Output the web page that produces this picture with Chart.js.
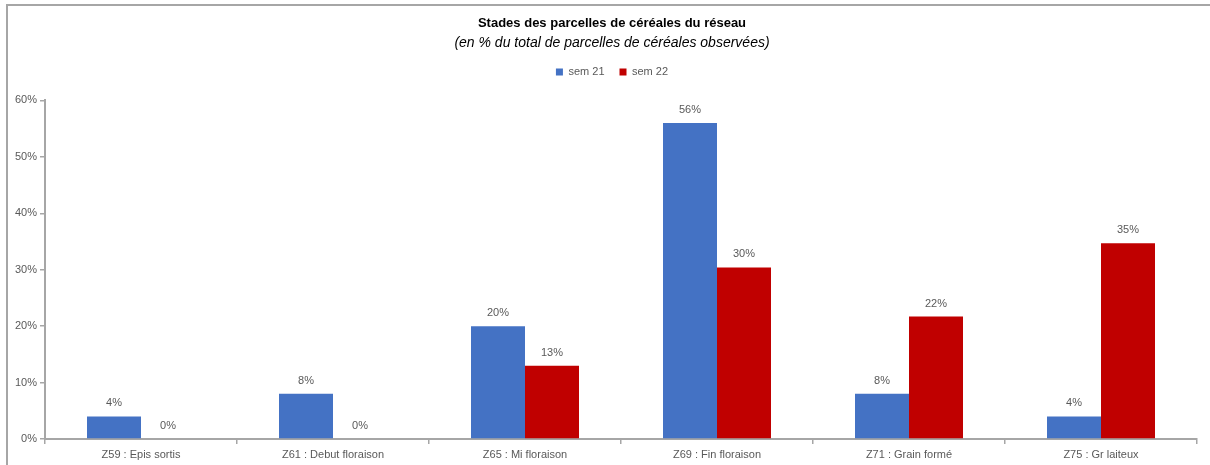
<!DOCTYPE html>
<html>
<head>
<meta charset="utf-8">
<script src="https://cdn.jsdelivr.net/npm/chart.js@4.4.1/dist/chart.umd.min.js"></script>
<style>
  html, body { margin: 0; padding: 0; background: #fff; overflow: hidden; }
  #wrap { position: relative; width: 1210px; height: 465px; }
  #frame { position: absolute; left: 6px; top: 4px; width: 1400px; height: 700px;
           border-top: 2px solid #a6a6a6; border-left: 2px solid #a6a6a6; pointer-events: none; }
  canvas { position: absolute; left: 0; top: 0; }
</style>
</head>
<body>
<div id="wrap">
  <canvas id="c" width="1210" height="465"></canvas>
  <div id="frame"></div>
</div>
<script>
const categories = ["Z59 : Epis sortis", "Z61 : Debut floraison", "Z65 : Mi floraison", "Z69 : Fin floraison", "Z71 : Grain formé", "Z75 : Gr laiteux"];
const sem21 = [4, 8, 20, 56, 8, 4];
const sem22 = [0, 0, 13, 30.4, 21.7, 34.7];
const yTicks = [0, 10, 20, 30, 40, 50, 60];
const seriesNames = ["sem 21", "sem 22"];
const titleText = "Stades des parcelles de céréales du réseau";
const subtitleText = "(en % du total de parcelles de céréales observées)";

const GRAY = '#595959';
const AXIS = '#a6a6a6';
const FONT = "'Liberation Sans', Arial, sans-serif";

const valueLabels = {
  id: 'valueLabels',
  afterDatasetsDraw(chart) {
    const ctx = chart.ctx;
    ctx.save();
    ctx.font = '11px ' + FONT;
    ctx.fillStyle = GRAY;
    ctx.textAlign = 'center';
    ctx.textBaseline = 'middle';
    chart.data.datasets.forEach((ds, i) => {
      chart.getDatasetMeta(i).data.forEach((bar, j) => {
        ctx.fillText(Math.round(ds.data[j]) + '%', bar.x, bar.y - 13);
      });
    });
    ctx.restore();
  }
};

const headerLayout = {
  id: 'headerLayout',
  beforeInit(chart) {
    const lg = chart.legend;
    if (lg && !lg._gapPatched) {
      const f = lg.fit;
      lg.fit = function () { f.call(this); this.height += 13; };
      lg._gapPatched = true;
    }
  },
  afterLayout(chart) {
    chart.boxes.forEach(b => {
      if (b === chart.titleBlock || b === chart.legend || (b.options && b.options.text === subtitleText)) {
        b.left = 27;
        b.width = b.right - b.left;
      }
    });
  }
};

new Chart(document.getElementById('c'), {
  type: 'bar',
  data: {
    labels: categories,
    datasets: [
      { label: seriesNames[0], data: sem21, backgroundColor: '#4472C4', borderWidth: 0 },
      { label: seriesNames[1], data: sem22, backgroundColor: '#C00000', borderWidth: 0 }
    ]
  },
  options: {
    responsive: false,
    animation: false,
    devicePixelRatio: 1,
    layout: { padding: { left: 0, right: 13, top: 0, bottom: 0 } },
    datasets: { bar: { categoryPercentage: 0.5625, barPercentage: 1.0 } },
    plugins: {
      title: {
        display: true, text: titleText, color: '#000',
        font: { family: FONT, size: 13, weight: 'bold', lineHeight: 1.2 },
        padding: { top: 16, bottom: 0 }
      },
      subtitle: {
        display: true, text: subtitleText, color: '#000',
        font: { family: FONT, size: 14, style: 'italic', lineHeight: 1.2 },
        padding: { top: 3, bottom: 0 }
      },
      legend: {
        display: true, position: 'top',
        labels: { boxWidth: 7, boxHeight: 7, color: GRAY, padding: 15,
                  font: { family: FONT, size: 11 } }
      },
      tooltip: { enabled: false }
    },
    scales: {
      x: {
        offset: true,
        grid: { display: true, offset: true, drawOnChartArea: false, drawTicks: true, tickLength: 5, color: AXIS, lineWidth: 1.5 },
        border: { display: true, color: AXIS, width: 2 },
        ticks: { color: GRAY, font: { family: FONT, size: 11 }, padding: 4, maxRotation: 0, autoSkip: false },
        afterFit(s) { s.height = 26; }
      },
      y: {
        min: 0, max: 60,
        afterBuildTicks(s) { s.ticks = yTicks.map(v => ({ value: v })); },
        grid: { display: true, drawOnChartArea: false, drawTicks: true, tickLength: 5, color: AXIS, lineWidth: 1.5 },
        border: { display: true, color: AXIS, width: 2 },
        ticks: { color: GRAY, font: { family: FONT, size: 11 }, padding: 3, callback: v => v + '%' },
        afterFit(s) { s.width = 45; }
      }
    }
  },
  plugins: [valueLabels, headerLayout]
});
</script>
</body>
</html>
